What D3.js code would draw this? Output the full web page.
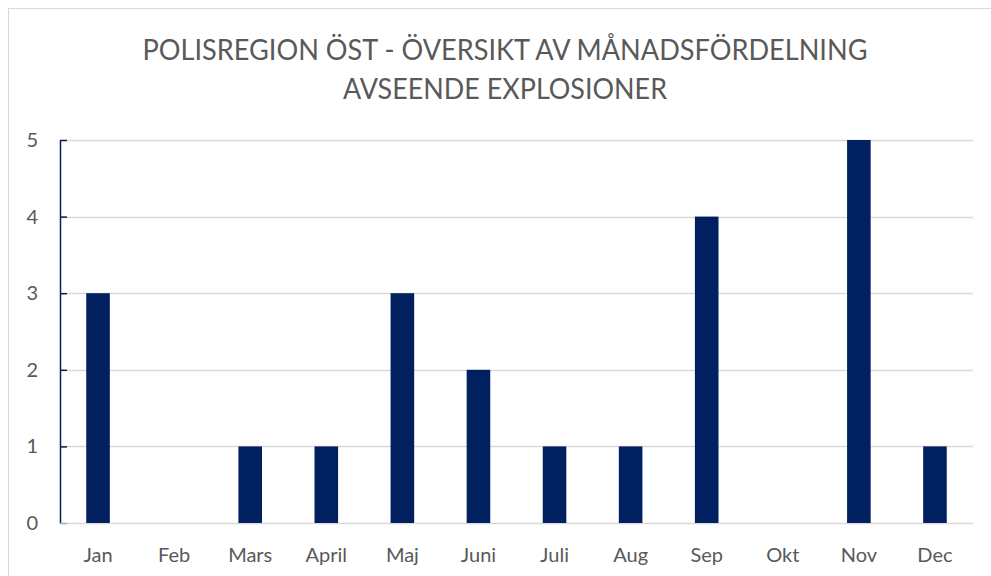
<!DOCTYPE html>
<html><head><meta charset="utf-8">
<script src="https://cdn.jsdelivr.net/npm/d3@7"></script>
<style>body{margin:0;background:#fff}svg{display:block}</style>
</head><body>
<svg id="c" width="991" height="576"></svg>
<script>
const months = ["Jan","Feb","Mars","April","Maj","Juni","Juli","Aug","Sep","Okt","Nov","Dec"];
const counts = [3,0,1,1,3,2,1,1,4,0,5,1];
const yTicks = [0,1,2,3,4,5];
const titleLines = ["POLISREGION ÖST - ÖVERSIKT AV MÅNADSFÖRDELNING","AVSEENDE EXPLOSIONER"];

(function(){
const svg = d3.select("#c");
const font = "Lato, 'Open Sans', sans-serif";
const navy = "#002060";
const gray = "#595959";

// frame
svg.append("rect").attr("x",8.5).attr("y",8.5).attr("width",1000).attr("height",600)
  .attr("fill","#fff").attr("stroke","#d9d9d9").attr("stroke-width",1);

const pL = 60, pR = 973, pT = 140, pB = 523;
const x = d3.scaleBand().domain(months).range([pL,pR]).paddingInner(0.69).paddingOuter(0.345);
const y = d3.scaleLinear().domain([0,5]).range([pB,pT]);

// gridlines
svg.append("g").selectAll("line").data(yTicks).join("line")
  .attr("x1",pL).attr("x2",pR)
  .attr("y1",d=>Math.round(y(d))+0.5).attr("y2",d=>Math.round(y(d))+0.5)
  .attr("stroke","#d9d9d9").attr("stroke-width",1.3);

// bars
svg.append("g").selectAll("rect").data(counts).join("rect")
  .attr("x",(d,i)=>x(months[i])).attr("width",x.bandwidth())
  .attr("y",d=>y(d)).attr("height",d=>pB-y(d))
  .attr("fill",navy);

// y axis
const ya = svg.append("g").attr("transform",`translate(${pL},0)`)
  .call(d3.axisRight(y).tickValues(yTicks).tickSize(7).tickSizeOuter(0).tickFormat(""));
ya.select(".domain").attr("stroke",navy).attr("stroke-width",1.5);
ya.selectAll(".tick line").attr("stroke",d=>d===0?"#a6b0c8":navy).attr("stroke-width",1.5);

svg.append("g").selectAll("text").data(yTicks).join("text")
  .attr("x",38).attr("y",d=>y(d)).attr("dy","0.35em").attr("text-anchor","end")
  .attr("font-family",font).attr("font-size",20).attr("fill",gray).text(d=>d);

// x axis labels
const xa = svg.append("g").attr("transform",`translate(0,${pB})`)
  .call(d3.axisBottom(x).tickSize(0).tickPadding(0));
xa.select(".domain").remove();
xa.selectAll("text").attr("y",32).attr("dy","0.35em")
  .attr("font-family",font).attr("font-size",20).attr("fill",gray);

// title
svg.append("g").selectAll("text").data(titleLines).join("text")
  .attr("x",505).attr("y",(d,i)=>60+i*39).attr("text-anchor","middle")
  .attr("font-family",font).attr("font-size",29).attr("fill",gray)
  .attr("textLength",(d,i)=>i===0?725:324).attr("lengthAdjust","spacingAndGlyphs")
  .text(d=>d);
})();
</script>
</body></html>
